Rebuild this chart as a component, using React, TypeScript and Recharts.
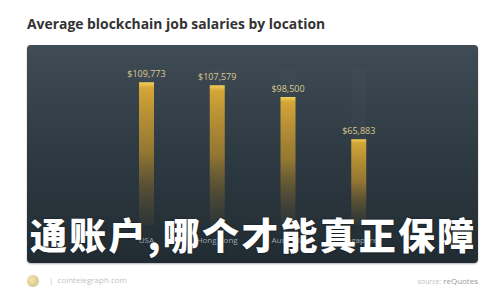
import { BarChart, Bar, XAxis, YAxis, LabelList } from 'recharts';

const locations = ['USA', 'Hong Kong', 'Australia', 'Singapore'];
const salaries = [109773, 107579, 98500, 65883];

const data = locations.map((location, i) => ({ location, salary: salaries[i] }));

const fmt = (v: number) => `$${v.toLocaleString('en-US')}`;

export default function App() {
  return (
    <div
      style={{
        position: 'fixed',
        left: 0,
        top: 0,
        width: 500,
        height: 300,
        background: '#fff',
        fontFamily: '"Open Sans", sans-serif',
        overflow: 'hidden',
      }}
    >
      <div
        style={{
          position: 'absolute',
          left: 27,
          top: 14,
          fontSize: 13.9,
          fontWeight: 700,
          color: '#333',
          whiteSpace: 'nowrap',
        }}
      >
        Average blockchain job salaries by location
      </div>

      <div
        style={{
          position: 'absolute',
          left: 27,
          top: 45,
          width: 451,
          height: 218,
          borderRadius: 4,
          background: 'linear-gradient(180deg, #3f4c55 0%, #2e3a42 50%, #212b32 100%)',
          boxShadow: '0 1px 2px rgba(0,0,0,0.3)',
        }}
      >
        <BarChart
          width={451}
          height={218}
          data={data}
          margin={{ top: 24, right: 84, bottom: 8, left: 84 }}
        >
          <defs>
            <linearGradient id="gold" x1="0" y1="0" x2="0" y2="1">
              <stop offset="0%" stopColor="#f4cf5a" stopOpacity={1} />
              <stop offset="4%" stopColor="#d4a537" stopOpacity={1} />
              <stop offset="50%" stopColor="#a3802f" stopOpacity={0.85} />
              <stop offset="100%" stopColor="#4a4128" stopOpacity={0.2} />
            </linearGradient>
          </defs>
          <XAxis
            dataKey="location"
            axisLine={false}
            tickLine={false}
            height={30}
            tickMargin={6}
            tick={{ fill: '#9ea7ad', fontSize: 8 }}
            interval={0}
          />
          <YAxis hide domain={[0, 120000]} />
          <Bar
            dataKey="salary"
            fill="url(#gold)"
            barSize={15}
            isAnimationActive={false}
            background={{ fill: 'rgba(255,255,255,0.02)' }}
          >
            <LabelList
              dataKey="salary"
              position="top"
              offset={5}
              formatter={(v: any) => fmt(Number(v))}
              style={{ fill: '#dcc88e', fontSize: 9 }}
            />
          </Bar>
        </BarChart>
      </div>

      <div
        style={{
          position: 'absolute',
          left: 30,
          top: 207,
          fontFamily: '"Noto Sans CJK SC", sans-serif',
          fontWeight: 900,
          fontSize: 37,
          letterSpacing: 2.2,
          color: '#fff',
          whiteSpace: 'nowrap',
          textShadow: '0 0 2px rgba(0,0,0,0.6)',
        }}
      >
        通账户,哪个才能真正保障
      </div>

      <div
        style={{
          position: 'absolute',
          left: 27,
          top: 275,
          width: 12,
          height: 12,
          borderRadius: 6,
          background: 'radial-gradient(circle at 40% 40%, #f3e6b0, #cdbb7a)',
        }}
      />
      <div
        style={{
          position: 'absolute',
          left: 49,
          top: 274,
          fontSize: 8,
          color: '#c2c2c2',
          whiteSpace: 'nowrap',
        }}
      >
        |&nbsp;&nbsp;cointelegraph.com
      </div>
      <div
        style={{
          position: 'absolute',
          right: 22,
          top: 275,
          fontSize: 7,
          color: '#c2c2c2',
          whiteSpace: 'nowrap',
        }}
      >
        source: <span style={{ color: '#9a9a9a', fontSize: 8 }}>reQuotes</span>
      </div>
    </div>
  );
}
